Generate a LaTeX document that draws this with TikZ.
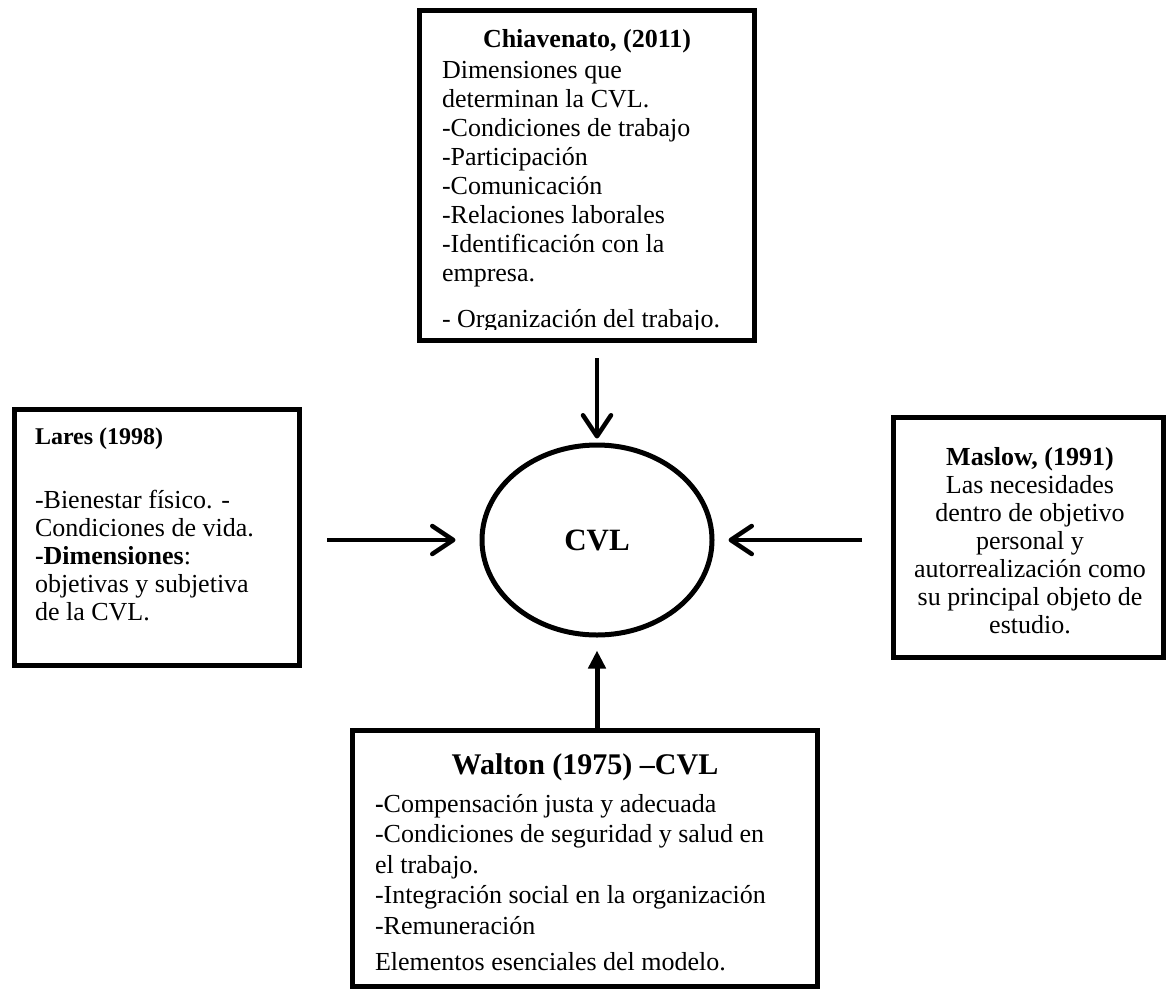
\documentclass[tikz,border=0pt]{standalone}
\usepackage{fontspec}
\setmainfont{Liberation Serif}
\usetikzlibrary{arrows.meta,shapes.geometric}
\begin{document}
\begin{tikzpicture}[x=1pt,y=-1pt,
  box/.style={draw,line width=5pt,rectangle,inner sep=0pt},
  txt/.style={inner sep=0pt,outer sep=0pt},
  bodyfont/.style={font=\fontsize{26}{29}\selectfont},
  barb/.style={line width=4.5pt,-{Straight Barb[length=21pt,width=28pt,round]}},
  tri/.style={line width=5pt,-{Triangle[length=18pt,width=17pt]}}]
\useasboundingbox (0,0) rectangle (1169,991);
\fill[white] (0,0) rectangle (1169,991);

% boxes
\node[box,minimum width=335pt,minimum height=330pt] (top) at (587,175.5) {};
\node[box,minimum width=285pt,minimum height=256pt] (left) at (157,537.5) {};
\node[box,minimum width=270pt,minimum height=240pt] (right) at (1028.5,537.5) {};
\node[box,minimum width=465pt,minimum height=256pt] (walton) at (585,858.5) {};
\node[draw,ellipse,line width=5pt,minimum width=230pt,minimum height=190pt,inner sep=0pt] (cvl) at (597,540) {};
\node[txt,font=\fontsize{31}{34}\selectfont\bfseries] (cvltxt) at (cvl.center) {CVL};

% top box text
\node[txt,anchor=base,font=\fontsize{26}{29}\selectfont\bfseries] (toptitle) at (587,47) {Chiavenato, (2011)};
\node[txt,anchor=base west,bodyfont] (topbody) at (442,78) {\begin{tabular}[t]{@{}l@{}}Dimensiones que\\determinan la CVL.\\-Condiciones de trabajo\\-Participación\\-Comunicación\\-Relaciones laborales\\-Identificación con la\\empresa.\end{tabular}};
\begin{scope}
\clip (419.5,300) rectangle (754.5,329);
\node[txt,anchor=base west,bodyfont] (toplast) at (442,327) {- Organización del trabajo.};
\end{scope}

% left box text
\node[txt,anchor=base west,font=\fontsize{24}{27}\selectfont\bfseries] (lefttitle) at (35,444) {Lares (1998)};
\node[txt,anchor=base west,font=\fontsize{26}{28}\selectfont] (leftbody) at (35,508) {\begin{tabular}[t]{@{}l@{}}-Bienestar físico. -\\Condiciones de vida.\\\textbf{-Dimensiones}:\\objetivas y subjetiva\\de la CVL.\end{tabular}};

% right box text
\node[txt,anchor=base,font=\fontsize{26}{29}\selectfont\bfseries] (righttitle) at (1030,465) {Maslow, (1991)};
\node[txt,anchor=base,font=\fontsize{26}{28}\selectfont] (rightbody) at (1030,493) {\begin{tabular}[t]{@{}c@{}}Las necesidades\\dentro de objetivo\\personal y\\autorrealización como\\su principal objeto de\\estudio.\end{tabular}};

% walton text
\node[txt,anchor=base,font=\fontsize{30}{34}\selectfont\bfseries] (waltontitle) at (585,774) {Walton (1975) –CVL};
\node[txt,anchor=base west,font=\fontsize{26}{30.5}\selectfont] (waltonbody) at (375,812) {\begin{tabular}[t]{@{}l@{}}\textbf{-}Compensación justa y adecuada\\-Condiciones de seguridad y salud en\\el trabajo.\\-Integración social en la organización\\-Remuneración\end{tabular}};
\node[txt,anchor=base west,bodyfont] (waltonlast) at (375,970) {Elementos esenciales del modelo.};

% connectors
\draw[barb,shorten <=15pt,shorten >=4pt] (top.south -| cvl.north) -- (cvl.north);
\draw[barb,shorten <=25pt,shorten >=24pt] (left.east |- cvl.west) -- (cvl.west);
\draw[barb,shorten <=29pt,shorten >=14pt] (right.west |- cvl.east) -- (cvl.east);
\draw[tri,shorten >=13pt] (walton.north -| cvl.south) -- (cvl.south);
\end{tikzpicture}
\end{document}
